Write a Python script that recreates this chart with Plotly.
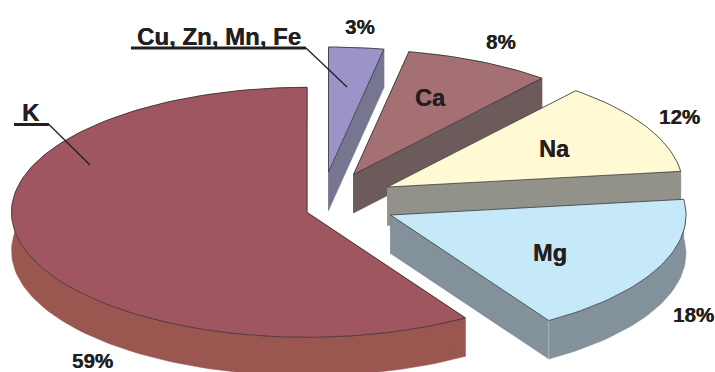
import math
import plotly.graph_objects as go

# Composition data, listed clockwise from twelve o'clock
elements = ["Cu, Zn, Mn, Fe", "Ca", "Na", "Mg", "K"]
shares = [3, 8, 12, 18, 59]

top_colors = ["#9C93C8", "#A47074", "#FFFAD4", "#C6E9FA", "#9F5660"]
side_colors = ["#767690", "#6D5A5A", "#92928A", "#82919A", "#99574F"]

# Exploded position of each wedge tip
tip_x = [328.5, 353.5, 387.5, 390.5, 307.0]
tip_y = [172.0, 174.5, 187.0, 215.0, 212.3]

RX, RY = 295.5, 125.0  # tilted pie ellipse
DEPTH = 38.5           # extrusion height
EDGE = "#2A2A2A"

# Text placement
inner_labels = {"Ca": (430, 98), "Na": (554, 149), "Mg": (550, 253)}
pct_pos = [(360, 26), (501, 41), (679, 116), (693, 314), (92, 360)]
callouts = [
    ("Cu, Zn, Mn, Fe", 219, 36.5, (131, 48), (306, 48), (347, 87)),
    ("K", 31, 112, (14, 124.5), (49, 124.5), (90, 165)),
]


def arc(cx, cy, a0, a1):
    steps = max(8, int(abs(a1 - a0) / 1.5))
    angles = [math.radians(a0 + (a1 - a0) * i / steps) for i in range(steps + 1)]
    return [cx + RX * math.sin(t) for t in angles], [cy - RY * math.cos(t) for t in angles]


def face(xs, ys, color, line_color=None, width=0.8):
    return go.Scatter(
        x=xs, y=ys, mode="lines", fill="toself", fillcolor=color,
        line=dict(color=line_color or color, width=width),
        hoverinfo="skip", showlegend=False,
    )


fig = go.Figure()

# Back-to-front order keeps the overlaps right: K first, then clockwise
order = [4, 0, 1, 2, 3]
starts = []
running = 0.0
for s in shares:
    starts.append(running)
    running += s * 3.6 * 100 / sum(shares)

for i in order:
    a0 = starts[i]
    a1 = a0 + shares[i] * 3.6 * 100 / sum(shares)
    cx, cy = tip_x[i], tip_y[i]
    ax, ay = arc(cx, cy, a0, a1)

    # Extruded walls: outer rim plus both radial cuts
    fig.add_trace(face(ax + ax[::-1], ay + [y + DEPTH for y in ay[::-1]], side_colors[i], width=0.5))
    for ex, ey in ((ax[0], ay[0]), (ax[-1], ay[-1])):
        fig.add_trace(face([cx, ex, ex, cx, cx],
                           [cy, ey, ey + DEPTH, cy + DEPTH, cy],
                           side_colors[i], width=0.5))
    # Top surface
    fig.add_trace(face([cx] + ax + [cx], [cy] + ay + [cy], top_colors[i], EDGE, 0.7))

    # Pale highlight on the front corner of the Mg wedge
    if elements[i] == "Mg":
        fig.add_trace(go.Scatter(x=[ax[-1], ax[-1]], y=[ay[-1], ay[-1] + DEPTH], mode="lines",
                                 line=dict(color="#AEBBC3", width=0.8),
                                 hoverinfo="skip", showlegend=False))

# Underlined callouts with leader lines
for name, tx, ty, p0, p1, p2 in callouts:
    fig.add_trace(go.Scatter(x=[p0[0], p1[0]], y=[p0[1], p1[1]], mode="lines",
                             line=dict(color="#231F20", width=3),
                             hoverinfo="skip", showlegend=False))
    fig.add_trace(go.Scatter(x=[p1[0], p2[0]], y=[p1[1], p2[1]], mode="lines",
                             line=dict(color="#231F20", width=1.3),
                             hoverinfo="skip", showlegend=False))


def label(text, x, y, size, shadow="0.35px 0 0 #231F20"):
    font = dict(family="Liberation Sans", size=size, color="#231F20", weight="bold", shadow=shadow)
    fig.add_annotation(x=x, y=y, text=text, showarrow=False, xanchor="center", yanchor="middle",
                       font=font)


for name, (x, y) in inner_labels.items():
    label(name, x, y, 23.5)
for name, tx, ty, *_ in callouts:
    label(name, tx, ty, 24)
for share, (x, y) in zip(shares, pct_pos):
    label(f"{share}%", x, y, 20.5)

fig.update_layout(
    width=715, height=372, margin=dict(l=0, r=0, t=0, b=0),
    paper_bgcolor="white", plot_bgcolor="white", showlegend=False,
    xaxis=dict(range=[0, 715], visible=False, fixedrange=True),
    yaxis=dict(range=[372, 0], visible=False, fixedrange=True),
)

fig.write_html("out.html", config={"displayModeBar": False})
